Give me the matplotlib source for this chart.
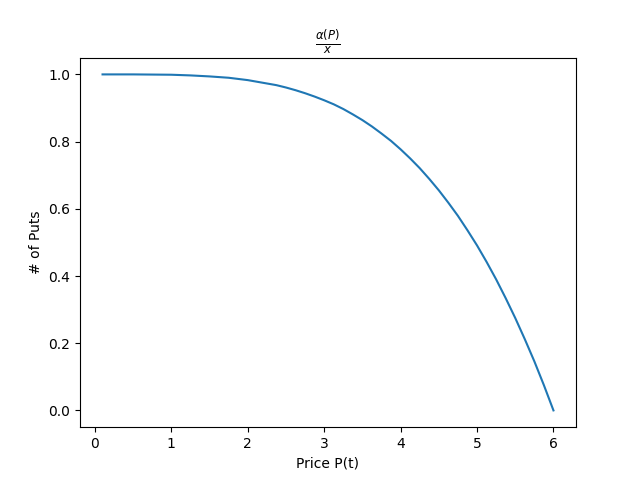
import matplotlib
matplotlib.use("Agg")
import matplotlib.pyplot as plt

price = [0.1, 0.5, 1.0, 1.25, 1.5, 1.75, 2.0, 2.25, 2.375, 2.5, 2.625, 2.75,
         2.875, 3.0, 3.125, 3.25, 3.375, 3.5, 3.625, 3.75, 3.875, 4.0, 4.125,
         4.25, 4.375, 4.5, 4.625, 4.75, 4.875, 5.0, 5.125, 5.25, 5.375, 5.5,
         5.625, 5.75, 5.875, 6.0]
puts = [1.000, 1.000, 0.999, 0.997, 0.994, 0.990, 0.983, 0.973, 0.968, 0.961,
        0.953, 0.944, 0.934, 0.923, 0.911, 0.897, 0.881, 0.864, 0.845, 0.824,
        0.802, 0.777, 0.750, 0.721, 0.689, 0.655, 0.618, 0.579, 0.536, 0.491,
        0.442, 0.390, 0.334, 0.275, 0.212, 0.146, 0.075, 0.000]

fig, ax = plt.subplots(figsize=(6.4, 4.8), dpi=100)
ax.plot(price, puts)
ax.set_title(r'$\frac{\alpha(P)}{x}$')
ax.set_xlabel('Price P(t)')
ax.set_ylabel('# of Puts')
fig.savefig('out.png')
